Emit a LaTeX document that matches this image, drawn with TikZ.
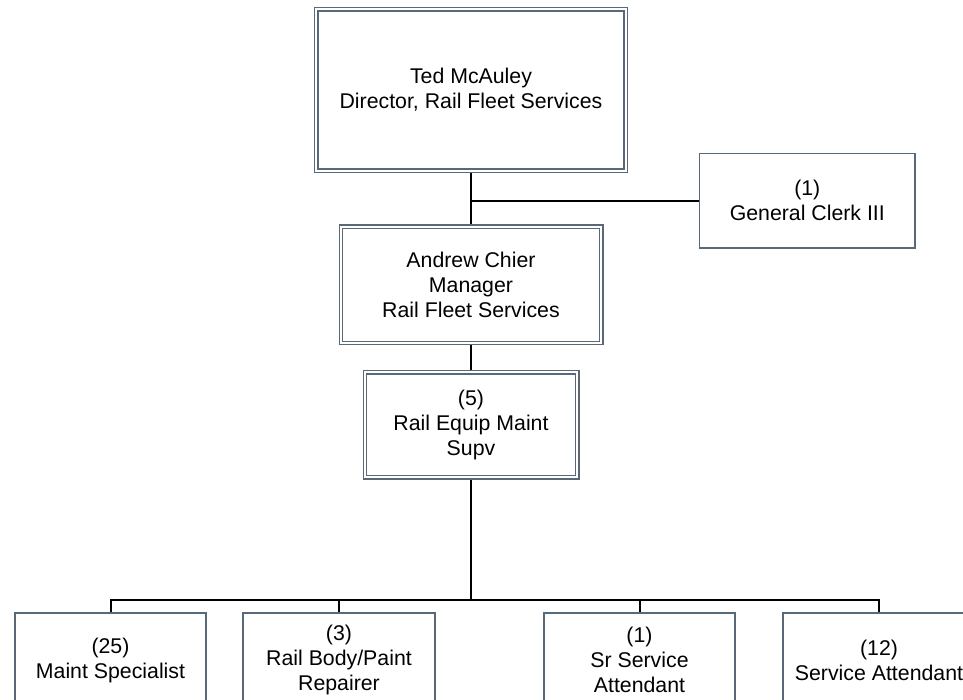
\documentclass[tikz,border=0pt]{standalone}
\usepackage{fontspec}
\setmainfont{Liberation Sans}
\usetikzlibrary{
  backgrounds,
  positioning
}
\definecolor{slate}{HTML}{5A6978}
\tikzset{
  box/.style={
    draw=slate,
    fill=white,
    line width=1.6pt,
    align=center,
    inner sep=0pt,
    font=\fontsize{21.3}{25}\selectfont
  },
  headbox/.style={
    box,
    line width=1.4pt,
    double=white,
    double distance=2pt
  },
  staffbox/.style={box, minimum width=191.5pt, minimum height=94.5pt},
  link/.style={draw=black, line width=2pt}
}

\begin{document}
\begin{tikzpicture}[x=1pt, y=-1pt]
  \useasboundingbox (0,0) rectangle (963,700);
  \clip (0,0) rectangle (963,700);

  \node[headbox, minimum width=309.2pt, minimum height=161.2pt] (director) at (471,90)
    {Ted McAuley\\Director, Rail Fleet Services};
  \node[headbox, minimum width=260.2pt, minimum height=116.2pt, below=54.8pt of director] (manager)
    {Andrew Chier\\Manager\\Rail Fleet Services};
  \node[headbox, minimum width=212.2pt, minimum height=105.2pt, below=27.8pt of manager] (supv)
    {(5)\\Rail Equip Maint\\Supv};

  \coordinate[below=29.4pt of director] (tee);
  \node[box, minimum width=215.5pt, minimum height=94.5pt, right=227.75pt of tee] (clerk)
    {(1)\\General Clerk III};

  \coordinate[below=121.4pt of supv] (bus);
  \node[staffbox, below=12.75pt of bus, xshift=-360.5pt] (specialist)
    {(25)\\Maint Specialist};
  \node[staffbox, below=12.75pt of bus, xshift=-132pt] (repairer)
    {(3)\\Rail Body/Paint\\Repairer};
  \node[staffbox, below=12.75pt of bus, xshift=168.5pt] (srattendant)
    {(1)\\Sr Service\\Attendant};
  \node[staffbox, below=12.75pt of bus, xshift=408pt] (attendant)
    {(12)\\Service Attendant};

  \begin{scope}[on background layer]
    \draw[link] (director) -- (manager);
    \draw[link] (tee) -- (clerk);
    \draw[link] (manager) -- (supv);
    \draw[link] (supv) -- (bus);
    \draw[link] (specialist) |- (bus) -| (attendant);
    \draw[link] (repairer) -- (repairer |- bus);
    \draw[link] (srattendant) -- (srattendant |- bus);
  \end{scope}
\end{tikzpicture}
\end{document}
